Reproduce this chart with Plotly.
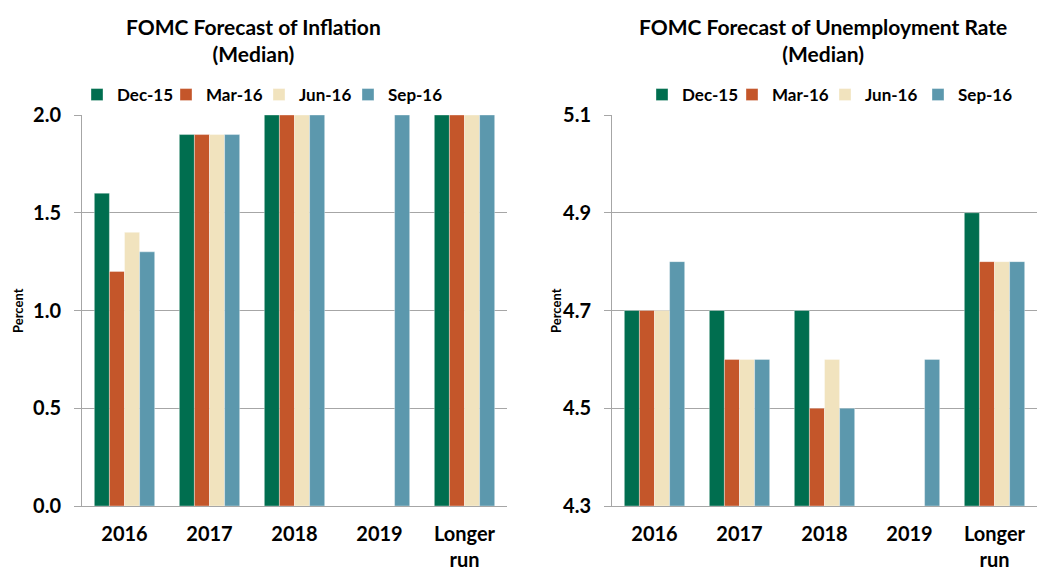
import plotly.graph_objects as go

categories = ["2016", "2017", "2018", "2019", "Longer<br>run"]
series_names = ["Dec-15", "Mar-16", "Jun-16", "Sep-16"]
colors = ["#006E4F", "#C4562A", "#F1E3BE", "#5C98AD"]

inflation = {
    "Dec-15": [1.6, 1.9, 2.0, None, 2.0],
    "Mar-16": [1.2, 1.9, 2.0, None, 2.0],
    "Jun-16": [1.4, 1.9, 2.0, None, 2.0],
    "Sep-16": [1.3, 1.9, 2.0, 2.0, 2.0],
}
unemployment = {
    "Dec-15": [4.7, 4.7, 4.7, None, 4.9],
    "Mar-16": [4.7, 4.6, 4.5, None, 4.8],
    "Jun-16": [4.7, 4.6, 4.6, None, 4.8],
    "Sep-16": [4.8, 4.6, 4.5, 4.6, 4.8],
}
infl_ticks = [0.0, 0.5, 1.0, 1.5, 2.0]
unemp_ticks = [4.3, 4.5, 4.7, 4.9, 5.1]

FONT = "Lato"
W, H = 1040, 571


def px(x):
    return x / W


def py(y):
    return 1 - y / H


# legend swatch left edges (page pixels)
left_swatch_x = [97, 186, 279, 368]
right_swatch_x = [662, 752, 845, 938]
LEG_SHIFT = 20

fig = go.Figure()
legend_layout = {}
for i, (name, col) in enumerate(zip(series_names, colors)):
    key = "legend" if i == 0 else f"legend{i + 1}"
    fig.add_trace(go.Bar(
        x=categories, y=inflation[name], name=name, marker_color=col,
        marker_line=dict(color="rgba(255,255,255,0.6)", width=0.6),
        xaxis="x", yaxis="y", legend=key, showlegend=True,
    ))
    legend_layout[key] = dict(x=px(left_swatch_x[i] - LEG_SHIFT), y=py(95))
for i, (name, col) in enumerate(zip(series_names, colors)):
    key = f"legend{i + 5}"
    fig.add_trace(go.Bar(
        x=categories, y=[v if v is None else round(v - 4.3, 3) for v in unemployment[name]],
        base=4.3, name=name, marker_color=col,
        marker_line=dict(color="rgba(255,255,255,0.6)", width=0.6),
        xaxis="x2", yaxis="y2", legend=key, showlegend=True,
    ))
    legend_layout[key] = dict(x=px(right_swatch_x[i] - LEG_SHIFT), y=py(95))

for key, pos in legend_layout.items():
    legend_layout[key] = dict(
        orientation="h", yanchor="middle", xanchor="left",
        font=dict(family=FONT, size=17, weight="bold"),
        itemwidth=30, bgcolor="rgba(0,0,0,0)", **pos)

ydom = [py(506), py(115)]
tickfont = dict(family=FONT, size=20, color="#000000", weight="bold")
xcommon = dict(showline=True, linecolor="#A6A6A6", linewidth=1, ticks="",
               tickfont=tickfont, automargin=False, ticklabelstandoff=10)
ycommon = dict(showline=True, linecolor="#A6A6A6", linewidth=1, tickfont=tickfont,
               automargin=False, tickformat=".1f", ticks="outside", ticklen=7,
               tickcolor="#A6A6A6", showgrid=True, gridcolor="#A6A6A6", gridwidth=1,
               zeroline=False, ticklabelstandoff=9)

fig.update_layout(
    width=W, height=H,
    margin=dict(l=0, r=0, t=0, b=0, autoexpand=False),
    paper_bgcolor="white", plot_bgcolor="white",
    barmode="group", bargap=0.29, bargroupgap=0,
    font=dict(family=FONT, color="#000000"),
    xaxis=dict(domain=[px(82), px(507)], anchor="y", **xcommon),
    xaxis2=dict(domain=[px(612), px(1037)], anchor="y2", **xcommon),
    yaxis=dict(domain=ydom, anchor="x", range=[0, 2.0], tickvals=infl_ticks, **ycommon),
    yaxis2=dict(domain=ydom, anchor="x2", range=[4.3, 5.1], tickvals=unemp_ticks, **ycommon),
    annotations=[
        dict(text="FOMC Forecast of Inflation<br>(Median)", x=px(253), y=py(40),
             xref="paper", yref="paper", showarrow=False, xanchor="center", yanchor="middle",
             font=dict(family=FONT, size=21, weight="bold")),
        dict(text="FOMC Forecast of Unemployment Rate<br>(Median)", x=px(823), y=py(40),
             xref="paper", yref="paper", showarrow=False, xanchor="center", yanchor="middle",
             font=dict(family=FONT, size=21, weight="bold")),
        dict(text="Percent", x=px(18), y=py(311), textangle=-90,
             xref="paper", yref="paper", showarrow=False, xanchor="center", yanchor="middle",
             font=dict(family=FONT, size=13, weight="bold")),
        dict(text="Percent", x=px(556), y=py(311), textangle=-90,
             xref="paper", yref="paper", showarrow=False, xanchor="center", yanchor="middle",
             font=dict(family=FONT, size=13, weight="bold")),
    ],
    **legend_layout,
)

fig.write_html(
    "out.html",
    config={"displayModeBar": False},
    post_script="document.body.style.margin='0';document.body.style.overflow='hidden';",
)
